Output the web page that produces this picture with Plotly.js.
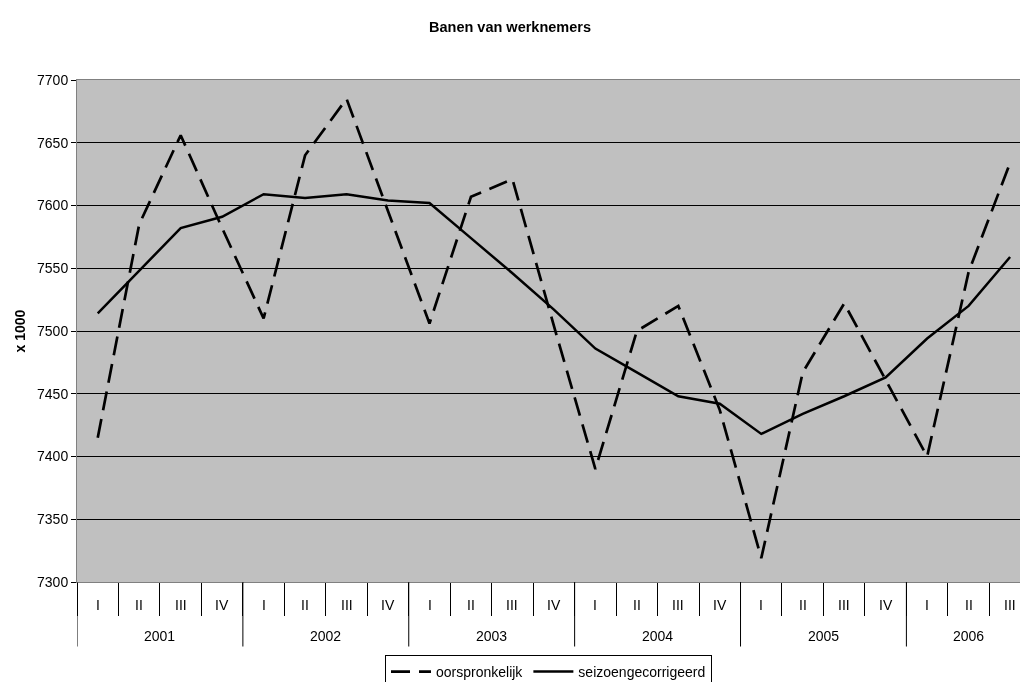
<!DOCTYPE html>
<html><head><meta charset="utf-8">
<script src="https://cdn.plot.ly/plotly-3.0.1.min.js"></script>
<style>html,body{margin:0;padding:0;background:#fff}#chart{width:1020px;height:682px}
#chart svg text{filter:grayscale(100%);}</style>
</head><body><div id="chart"></div>
<script>
const years = ['2001','2002','2003','2004','2005','2006'];
const quartersPerYear = [4,4,4,4,4,3];
const quarterLabels = ['I','II','III','IV'];
const oorspronkelijk = [7415,7585,7656,7582, 7510,7640,7685,7595, 7506,7607,7621,7504, 7390,7500,7520,7437, 7319,7467,7522,7461, 7400,7547,7634];
const seizoengecorrigeerd = [7514,7548,7582,7591, 7609,7606,7609,7604, 7602,7574,7546,7517, 7486,7467,7448,7442, 7418,7434,7448,7463, 7494,7520,7559];
const yTicks = [7300,7350,7400,7450,7500,7550,7600,7650,7700];

const FONT = 'Liberation Sans, Arial, sans-serif';
const cats = [], qText = [];
years.forEach((y, yi) => {
  for (let q = 0; q < quartersPerYear[yi]; q++) { cats.push(y + ' ' + quarterLabels[q]); qText.push(quarterLabels[q]); }
});

const annotations = [];
const shapes = [];
qText.forEach((t, i) => annotations.push({
  x: i, xref: 'x', y: 0, yref: 'paper', yshift: -22.5, yanchor: 'middle', xanchor: 'center',
  text: t, showarrow: false, font: {family: FONT, size: 14, color: '#000'}
}));
let start = 0;
years.forEach((y, yi) => {
  const n = quartersPerYear[yi];
  annotations.push({
    x: start + (n - 1) / 2, xref: 'x', y: 0, yref: 'paper', yshift: -53.5, yanchor: 'middle', xanchor: 'center',
    text: y, showarrow: false, font: {family: FONT, size: 14, color: '#000'}
  });
  shapes.push({type: 'line', xref: 'x', x0: start - 0.5, x1: start - 0.5, yref: 'paper', ysizemode: 'pixel', yanchor: 0, y0: 0, y1: -64.5,
    line: {color: '#000', width: 1}});
  start += n;
});

const traces = [
  {x: cats, y: oorspronkelijk, name: 'oorspronkelijk', type: 'scatter', mode: 'lines',
   line: {color: '#000', width: 2.7, dash: '19px,9px'}},
  {x: cats, y: seizoengecorrigeerd, name: 'seizoengecorrigeerd', type: 'scatter', mode: 'lines',
   line: {color: '#000', width: 2.5}}
];

const catWidth = 41.47;
const layout = {
  width: 1020, height: 682,
  margin: {l: 77, r: 0, t: 80, b: 100, autoexpand: false},
  paper_bgcolor: '#fff', plot_bgcolor: '#c0c0c0',
  font: {family: FONT, size: 14, color: '#000'},
  title: {text: '<b>Banen van werknemers</b>', font: {family: FONT, size: 14.5, color: '#000'},
          x: 0.5, xref: 'container', y: 1 - 27/682, yref: 'container', yanchor: 'middle'},
  showlegend: true,
  legend: {orientation: 'h', x: 0.5, xanchor: 'center', y: -0.1454, yanchor: 'top',
           bordercolor: '#000', borderwidth: 1, bgcolor: '#fff', font: {family: FONT, size: 14, color: '#000'},
           itemwidth: 40},
  xaxis: {type: 'category', range: [-0.5, -0.5 + 943 / catWidth], showgrid: false, zeroline: false,
          tickson: 'boundaries', ticks: 'outside', ticklen: 33, tickcolor: '#000', tickwidth: 1,
          showticklabels: false, showline: true, linecolor: '#808080', linewidth: 1, mirror: true, fixedrange: true},
  yaxis: {range: [7300, 7700], tickvals: yTicks, ticktext: yTicks.map(String),
          showgrid: true, gridcolor: '#000', gridwidth: 1, zeroline: false,
          ticks: 'outside', ticklen: 5, tickcolor: '#000', showline: true, linecolor: '#808080', linewidth: 1,
          tickfont: {family: FONT, size: 14, color: '#000'},
          title: {text: '<b>x 1000</b>', font: {family: FONT, size: 14, color: '#000'}, standoff: 8},
          fixedrange: true},
  annotations: annotations,
  shapes: shapes
};
Plotly.newPlot('chart', traces, layout, {displayModeBar: false, staticPlot: true});
</script>
</body></html>
